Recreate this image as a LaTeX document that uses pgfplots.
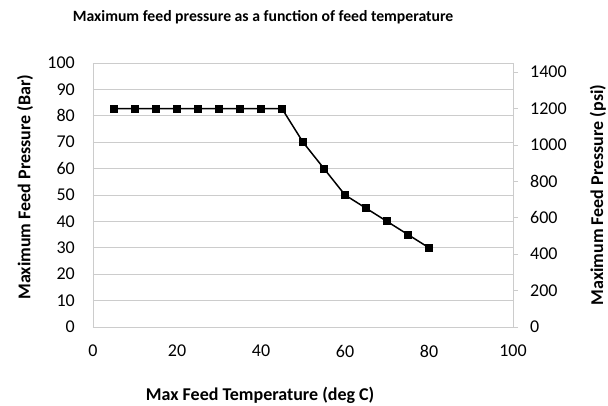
\documentclass[border=0pt]{standalone}
\usepackage{pgfplots}
\pgfplotsset{compat=1.18}
\usepackage{fontspec}
\setmainfont{Carlito}
\definecolor{gridgray}{RGB}{204,204,204}
\begin{document}
\begin{tikzpicture}[x=1pt,y=1pt]
\path[use as bounding box] (-93,-79) rectangle (515,327);
\begin{axis}[
  at={(0,0)}, anchor=south west,
  scale only axis, width=420pt, height=264pt,
  xmin=0, xmax=100, ymin=0, ymax=100,
  xtick={0,20,...,100}, ytick={0,10,...,100},
  major tick length=0pt,
  ymajorgrids, grid style={gridgray, line width=0.8pt},
  axis line style={gridgray, line width=0.8pt},
  axis x line*=bottom, axis y line*=left,
  tick label style={font=\fontsize{18}{18}\selectfont, inner sep=0pt},
  /pgf/number format/assume math mode=true,
  xticklabel style={anchor=north, yshift=-18pt},
  yticklabel style={anchor=east, xshift=-18pt},
  xlabel={Max Feed Temperature (deg C)},
  ylabel={Maximum Feed Pressure (Bar)},
  xlabel style={font=\bfseries\fontsize{18}{18}\selectfont, at={(axis description cs:0.398,-0.258)}, anchor=center},
  ylabel style={font=\bfseries\fontsize{18}{18}\selectfont, at={(axis description cs:-0.162,0.53)}, anchor=center, rotate=0},
  title={Maximum feed pressure as a function of feed temperature},
  title style={font=\bfseries\fontsize{15.7}{15.7}\selectfont, at={(axis description cs:0.405,1.15)}, anchor=center},
  clip=false,
]
\draw[gridgray, line width=0.8pt] (rel axis cs:0,1) -- (rel axis cs:1,1) -- (rel axis cs:1,0);
\addplot[black, line width=1.5pt, mark=square*, mark size=3.3pt, mark options={solid}] coordinates {
(5,82.7) (10,82.7) (15,82.7) (20,82.7) (25,82.7) (30,82.7) (35,82.7) (40,82.7) (45,82.7)
(50,70) (55,60) (60,50) (65,45) (70,40) (75,35) (80,30)
};
\end{axis}
\begin{axis}[
  at={(0,0)}, anchor=south west,
  scale only axis, width=420pt, height=264pt,
  xmin=0, xmax=100, ymin=0, ymax=1450.38,
  hide x axis,
  axis y line*=right,
  ytick={0,200,...,1400},
  tick align=outside, major tick length=5pt,
  tick style={gridgray, line width=0.8pt},
  axis line style={gridgray, line width=0.8pt},
  tick label style={font=\fontsize{18}{18}\selectfont, inner sep=0pt},
  /pgf/number format/assume math mode=true,
  /pgf/number format/set thousands separator={},
  yticklabel style={anchor=west, xshift=12pt},
  ylabel={Maximum Feed Pressure (psi)},
  ylabel style={font=\bfseries\fontsize{18}{18}\selectfont, at={(axis description cs:1.202,0.5)}, anchor=center, rotate=0},
]
\end{axis}
\end{tikzpicture}
\end{document}
